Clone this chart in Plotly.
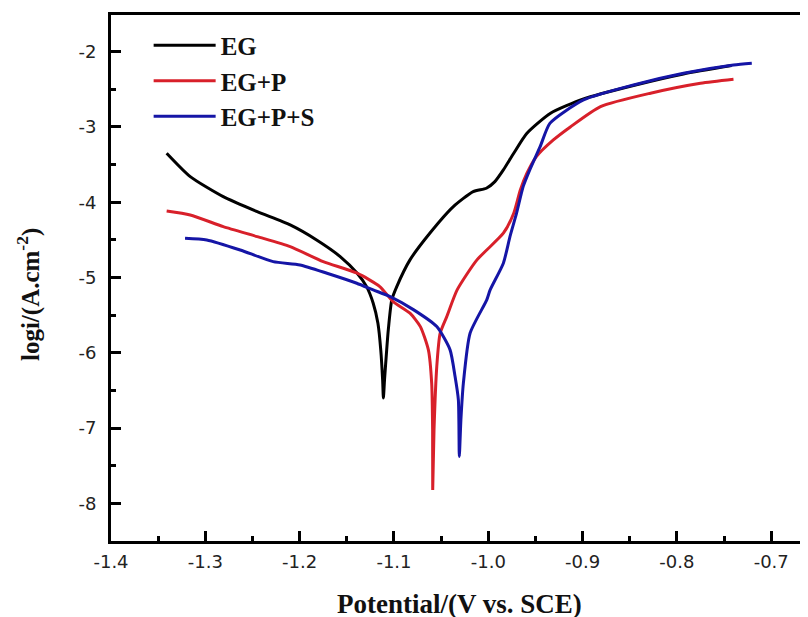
import plotly.graph_objects as go

# EG (black)
eg_x = [-1.341, -1.316, -1.281, -1.245, -1.210, -1.182, -1.157, -1.139, -1.129, -1.122, -1.117,
        -1.114, -1.112, -1.1112, -1.110, -1.1077, -1.106, -1.1023, -1.097, -1.083, -1.062, -1.037,
        -1.016, -1.002, -0.993, -0.984, -0.973, -0.959, -0.934, -0.899, -0.846, -0.793, -0.742]
eg_y = [-3.349, -3.660, -3.926, -4.125, -4.301, -4.501, -4.722, -4.943, -5.121, -5.341, -5.607,
        -5.96, -6.36, -6.60, -6.36, -5.96, -5.696, -5.297, -5.12, -4.766, -4.412, -4.058,
        -3.859, -3.814, -3.726, -3.571, -3.349, -3.084, -2.818, -2.628, -2.449, -2.296, -2.185]

# EG+P (red)
egp_x = [-1.341, -1.316, -1.281, -1.245, -1.210, -1.175, -1.139, -1.115, -1.101, -1.083, -1.072,
         -1.0635, -1.060, -1.059, -1.0589, -1.0575, -1.0546, -1.051, -1.044, -1.033, -1.012, -0.984,
         -0.973, -0.966, -0.959, -0.949, -0.931, -0.913, -0.881, -0.828, -0.775, -0.740]
egp_y = [-4.116, -4.169, -4.324, -4.457, -4.590, -4.789, -4.943, -5.121, -5.320, -5.474, -5.652,
         -5.961, -6.404, -7.02, -7.821, -7.02, -6.183, -5.740, -5.519, -5.165, -4.766, -4.412,
         -4.146, -3.837, -3.615, -3.394, -3.173, -3.000, -2.730, -2.552, -2.420, -2.367]

# EG+P+S (blue)
egps_x = [-1.3215, -1.2985, -1.263, -1.228, -1.1996, -1.171, -1.1394, -1.122, -1.104, -1.079, -1.0546,
          -1.0405, -1.0352, -1.0317, -1.0307, -1.029, -1.0264, -1.0193, -1.0016, -0.998, -0.984,
          -0.977, -0.970, -0.963, -0.956, -0.945, -0.9345, -0.899, -0.846, -0.793, -0.740, -0.7206]
egps_y = [-4.478, -4.501, -4.634, -4.789, -4.833, -4.943, -5.076, -5.165, -5.254, -5.430, -5.652,
          -5.961, -6.316, -6.626, -7.378, -6.89, -6.404, -5.740, -5.297, -5.165, -4.810,
          -4.457, -4.146, -3.793, -3.571, -3.262, -2.95, -2.641, -2.442, -2.287, -2.177, -2.154]

x_ticks = [-1.4, -1.3, -1.2, -1.1, -1.0, -0.9, -0.8, -0.7]
x_labels = ["-1.4", "-1.3", "-1.2", "-1.1", "-1.0", "-0.9", "-0.8", "-0.7"]
y_ticks = [-8, -7, -6, -5, -4, -3, -2]
y_labels = ["-8", "-7", "-6", "-5", "-4", "-3", "-2"]

series = [
    ("EG", eg_x, eg_y, "#000000"),
    ("EG+P", egp_x, egp_y, "#d8202a"),
    ("EG+P+S", egps_x, egps_y, "#1515a6"),
]

fig = go.Figure()
for i, (name, xs, ys, col) in enumerate(series):
    fig.add_trace(go.Scatter(x=xs, y=ys, mode="lines", name=f"<b>{name}</b>",
                             line=dict(color=col, width=3, shape="spline", smoothing=0.6)))

tickfont = dict(family="DejaVu Sans", size=18, color="#222222")
fig.update_layout(
    width=800, height=609,
    margin=dict(l=103, r=0, t=7, b=76),
    paper_bgcolor="white", plot_bgcolor="white",
    showlegend=True,
    legend=dict(x=0.054, y=0.9857, xanchor="left", yanchor="top",
                traceorder="normal", itemwidth=62,
                font=dict(family="Liberation Serif", size=25, color="#111111"),
                bgcolor="rgba(0,0,0,0)"),
    xaxis=dict(range=[-1.4, -0.661], tickvals=x_ticks, ticktext=x_labels, automargin=False,
               ticks="inside", ticklen=10, tickwidth=3, tickcolor="black",
               showline=True, linewidth=3, linecolor="black", mirror=True,
               showgrid=False, zeroline=False, tickfont=tickfont, ticklabelstandoff=2,
               minor=dict(dtick=0.05, ticks="inside", ticklen=5, tickwidth=3, tickcolor="black", showgrid=False)),
    yaxis=dict(range=[-8.5, -1.513], tickvals=y_ticks, ticktext=y_labels, automargin=False,
               ticks="inside", ticklen=10, tickwidth=3, tickcolor="black",
               showline=True, linewidth=3, linecolor="black", mirror=False,
               showgrid=False, zeroline=False, tickfont=tickfont, ticklabelstandoff=8,
               minor=dict(dtick=0.5, ticks="inside", ticklen=5, tickwidth=3, tickcolor="black", showgrid=False)),
    annotations=[
        dict(text="<b>logi/(A.cm<sup>-2</sup>)</b>", xref="paper", yref="paper",
             x=-0.1176, y=0.4677, xanchor="center", yanchor="middle", textangle=-90,
             showarrow=False, font=dict(family="Liberation Serif", size=25, color="#111111")),
        dict(text="<b>Potential/(V vs. SCE)</b>", xref="paper", yref="paper",
             x=0.5, y=-0.1205, xanchor="center", yanchor="middle",
             showarrow=False, font=dict(family="Liberation Serif", size=27, color="#111111")),
    ],
)

fig.write_html("out.html")
